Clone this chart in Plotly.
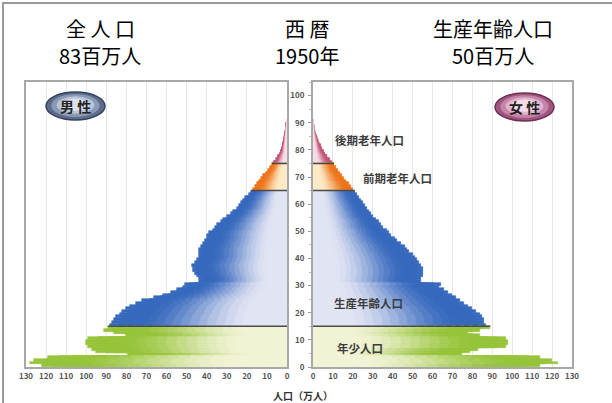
import numpy as np
import plotly.graph_objects as go

# ---------------- data (万人) ----------------
ages = list(range(91))
male = [122, 128, 126, 119, 79, 95, 97, 99, 100, 100,
        99, 80, 86, 91, 89, 88, 87, 86, 85, 83,
        82, 80, 78, 75, 72, 66, 62, 58, 55, 52,
        51, 44, 44, 45, 46, 47, 47, 47.5, 46, 45,
        44, 44, 44, 44, 43, 42, 41, 40, 40, 39,
        37, 36, 35, 33, 32, 30, 28, 27, 25, 24,
        23, 22, 21, 19, 18, 17, 16, 15, 14, 13,
        11.8, 10.6, 9.5, 8.5, 7.5, 6.6, 5.5, 4.5, 3.7, 3.1,
        2.6, 2.2, 1.9, 1.6, 1.3, 1.0, 0.8, 0.6, 0.45, 0.3, 0.2]
female = [114, 123, 120, 114, 75, 79, 83, 97, 98, 98,
          97, 84, 78, 84, 89, 87, 86, 86, 85, 84,
          82, 80, 78, 76, 74, 72, 70, 68, 66, 63,
          64, 54, 54, 55, 55, 55, 55, 54, 53, 52,
          51, 50, 48, 47, 46, 44, 42, 41, 39, 38,
          37, 35, 34, 33, 31.5, 30, 29, 28, 27, 26,
          25, 24, 23, 22, 21, 20, 19, 18, 16.5, 15.5,
          14.5, 13.5, 12.5, 11.5, 10.5, 9.5, 8.3, 7.2, 6.2, 5.3,
          4.4, 3.8, 3.2, 2.7, 2.1, 1.6, 1.1, 0.7, 0.4, 0.2, 0.1]
x_ticks = list(range(0, 140, 10))
y_ticks = list(range(0, 110, 10))
group_bounds = [15, 65, 75]
group_labels = ["年少人口", "生産年齢人口", "前期老年人口", "後期老年人口"]
header_titles = ["全 人 口", "西 暦", "生産年齢人口"]
header_values = ["83百万人", "1950年", "50百万人"]

# ---------------- layout helpers ----------------
W, H = 612, 403
ML, MR, MT, MB = 26, 40, 82, 36
PW = W - ML - MR
PH = H - MT - MB
FONT = "Noto Sans CJK JP"


def px_x(px):
    return (px - ML) / PW


def px_y(py):
    return (H - MB - py) / PH


sat = {0: (150, 196, 58), 1: (55, 105, 190), 2: (238, 118, 28), 3: (196, 86, 118)}
pale = {0: (242, 244, 214), 1: (226, 229, 244), 2: (253, 236, 200), 3: (246, 222, 230)}


def group(a):
    if a < group_bounds[0]:
        return 0
    if a < group_bounds[1]:
        return 1
    if a < group_bounds[2]:
        return 2
    return 3


def mix(g, t):
    f = float(np.clip((t - 0.2) / 0.65, 0, 1))
    f = f * f * (3 - 2 * f)
    c = [round(pale[g][i] + (sat[g][i] - pale[g][i]) * f) for i in range(3)]
    return f"rgb({c[0]},{c[1]},{c[2]})"


fig = go.Figure()
N = 20
yc = [a + 0.5 for a in ages]
for vals, xa, ya in [(male, "x", "y"), (female, "x2", "y2")]:
    for k in range(N):
        frac = (N - k) / N
        t = (N - k - 0.5) / N
        cols = [mix(group(a), t) for a in ages]
        fig.add_trace(go.Bar(
            y=yc, x=[v * frac for v in vals], orientation="h",
            marker=dict(color=cols, line=dict(width=0.6, color=cols)),
            width=1, xaxis=xa, yaxis=ya, showlegend=False, hoverinfo="skip"))
    for b in group_bounds:
        fig.add_trace(go.Scatter(
            x=[0, max(vals[b - 1], vals[b])], y=[b, b], mode="lines",
            line=dict(color="#4a4a4a", width=1.6), xaxis=xa, yaxis=ya,
            showlegend=False, hoverinfo="skip"))

tickfont = dict(size=8, color="#555555", family=FONT, weight="bold")
xcommon = dict(tickvals=x_ticks, showline=True, linecolor="#a8a8a8",
               linewidth=2, mirror=True, showgrid=True, gridcolor="#e8e8e8",
               gridwidth=1, zeroline=False, tickfont=tickfont, ticks="")
fig.update_layout(
    width=W, height=H, margin=dict(l=ML, r=MR, t=MT, b=MB),
    paper_bgcolor="white", plot_bgcolor="white",
    barmode="overlay", bargap=0,
    font=dict(family=FONT),
    xaxis=dict(xcommon, domain=[0, px_x(287)], range=[130, 0]),
    xaxis2=dict(xcommon, domain=[px_x(313), 1], range=[0, 130]),
    yaxis=dict(range=[0, 105], showticklabels=False, showline=True, linecolor="#a8a8a8",
               linewidth=2, mirror=True, showgrid=False, zeroline=False, anchor="x",
               tickvals=y_ticks),
    yaxis2=dict(range=[0, 105], showticklabels=True, showline=True, linecolor="#a8a8a8",
                linewidth=2, mirror=True, showgrid=False, zeroline=False, anchor="x2",
                tickvals=y_ticks, ticks="outside", ticklen=3, tickcolor="#999",
                tickfont=tickfont, side="left", ticklabelstandoff=2,
                minor=dict(dtick=5, ticks="outside", ticklen=2, tickcolor="#bbb")),
)

ann = []


def text_at(px, py, text, font, xref="paper", yref="paper"):
    if xref == "paper":
        px = px_x(px)
    if yref == "paper":
        py = px_y(py)
    ann.append(dict(x=px, y=py, xref=xref, yref=yref, text=text, showarrow=False,
                    xanchor="center", yanchor="middle", font=font))


# header
for cx, t1, t2 in zip([100, 307, 493], header_titles, header_values):
    text_at(cx, 28, t1, dict(size=20, color="black", family=FONT))
    text_at(cx, 56, t2, dict(size=20, color="black", family=FONT))
# group labels (right panel)
for text, xv, yv in zip(group_labels, [23.6, 28.1, 42.2, 28.6], [7, 23.6, 69.6, 83.6]):
    text_at(xv, yv, text, dict(size=11.5, color="#3c3c3c", family=FONT, weight="bold"),
            xref="x2", yref="y2")
# axis title
text_at(303, 395, "人口（万人）", dict(size=10, color="#333", family=FONT, weight="bold"))

shapes = []


def badge(x0, y0, x1, y1, cols, line):
    for i, c in enumerate(cols):
        ix = (x1 - x0) * 0.09 * i
        iy = (y1 - y0) * 0.11 * i
        shapes.append(dict(type="circle", xref="paper", yref="paper",
                           x0=px_x(x0 + ix), x1=px_x(x1 - ix),
                           y0=px_y(y1 - iy), y1=px_y(y0 + iy * 0.7),
                           fillcolor=c, line=dict(color=line if i == 0 else c,
                                                  width=1.5 if i == 0 else 0)))


badge(46, 92, 105, 120, ["#5c6c8c", "#8a9ab6", "#b9c5d8", "#dce3ee"], "#34425e")
badge(495, 93, 554, 121, ["#a0567f", "#c585aa", "#e0b4cc", "#f3dbe7"], "#6e2e55")
text_at(75.5, 106, "男 性", dict(size=14, color="#222", family=FONT, weight="bold"))
text_at(524.5, 107, "女 性", dict(size=14, color="#222", family=FONT, weight="bold"))

# outer frame (left and top edges)
shapes.append(dict(type="line", xref="paper", yref="paper", x0=px_x(3), x1=px_x(3),
                   y0=px_y(2), y1=px_y(403), line=dict(color="#9a9a9a", width=2)))
shapes.append(dict(type="line", xref="paper", yref="paper", x0=px_x(2), x1=px_x(612),
                   y0=px_y(3), y1=px_y(3), line=dict(color="#9a9a9a", width=2)))

fig.update_layout(annotations=ann, shapes=shapes)
fig.write_html("out.html", config={"displayModeBar": False},
               post_script="document.body.style.margin='0';document.body.style.overflow='hidden';")
